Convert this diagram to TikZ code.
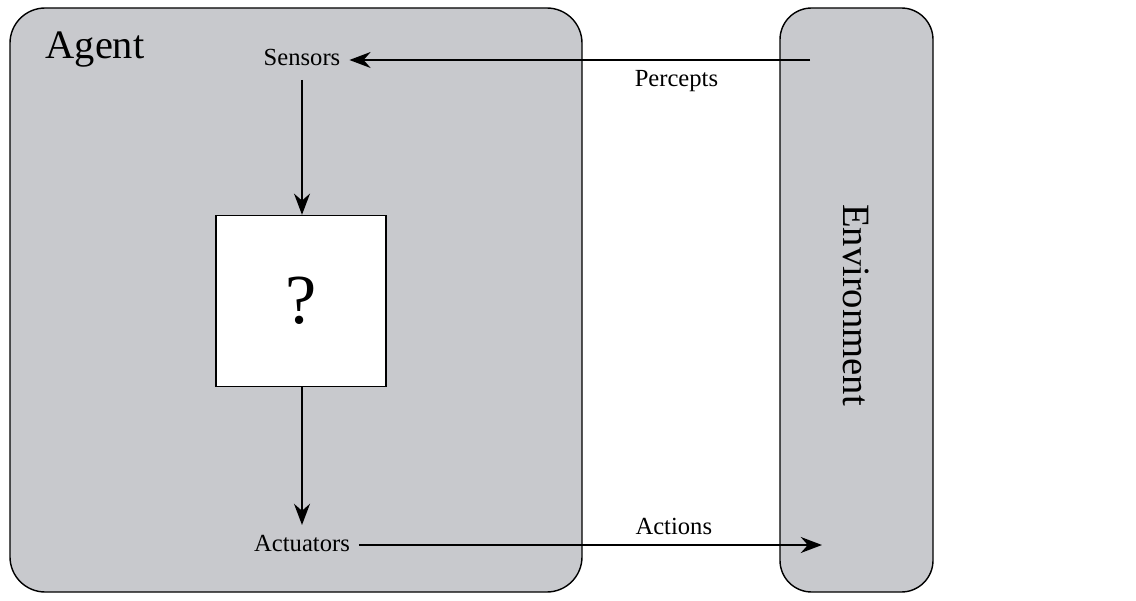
\documentclass[tikz,border=0pt]{standalone}
\usepackage{fontspec}
\setmainfont{Liberation Serif}
\usetikzlibrary{arrows.meta}
\definecolor{boxgray}{RGB}{200,201,205}
\begin{document}
\begin{tikzpicture}[x=0.02cm,y=-0.02cm,
    region/.style={draw=black,thick,fill=boxgray},
    flow/.style={line width=1.6pt,-{Stealth[length=12pt,width=9pt]}},
    lbl/.style={font=\fontsize{14}{16}\selectfont,inner sep=1pt}]

    % frame
    \useasboundingbox (0,0) rectangle (1136,601);

    % agent and environment
    \draw[region,rounded corners=20pt] (10,8) rectangle (582,592);
    \draw[region,rounded corners=18pt] (780,8) rectangle (933,592);
    \node[font=\fontsize{23}{26}\selectfont] (agent) at (95,50) {Agent};
    \node[font=\fontsize{22}{25}\selectfont,rotate=-90] (env) at (856,305) {Environment};

    % inner nodes
    \node[lbl] (sensors) at (302,57) {Sensors};
    \node[draw=black,thick,fill=white,minimum width=3.4cm,minimum height=3.42cm,
          font=\fontsize{40}{44}\selectfont] (box) at (301,301) {?};
    \node[lbl] (actuators) at (302,543) {Actuators};
    \coordinate (pin) at (810,60);
    \coordinate (pout) at (822,545);
    \coordinate (s1) at (302,80);
    \coordinate (a1) at (302,525);

    % arrows
    \draw[flow] (pin) -- ([xshift=4pt]sensors.east |- pin) node[lbl,pos=0.29,below=4pt] {Percepts};
    \draw[flow] (s1) -- (box.north -| s1);
    \draw[flow] (box.south -| a1) -- (a1);
    \draw[flow] ([xshift=4pt]actuators.east |- pout) -- (pout) node[lbl,pos=0.68,above=4pt] {Actions};
\end{tikzpicture}
\end{document}
